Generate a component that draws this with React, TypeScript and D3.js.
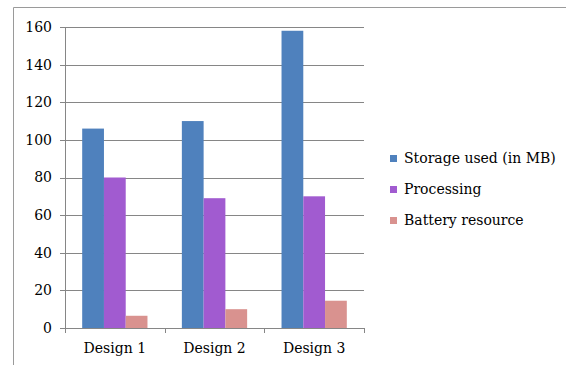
import React from "react";
import * as d3 from "d3";

const categories = ["Design 1", "Design 2", "Design 3"];
const seriesNames = ["Storage used (in MB)", "Processing", "Battery resource"];
const storage = [106, 110, 158];
const processing = [80, 69, 70];
const battery = [6.5, 10, 14.5];
const yTicks = [0, 20, 40, 60, 80, 100, 120, 140, 160];
const colors = ["#4F81BD", "#A15BD0", "#D9928F"];

export default function App() {
  const W = 566, H = 365;
  const left = 65, right = 364, top = 27, bottom = 328;
  const series = [storage, processing, battery];
  const x = d3.scaleBand<string>().domain(categories).range([left, right]).paddingInner(0).paddingOuter(0);
  const y = d3.scaleLinear().domain([0, 160]).range([bottom, top]);
  const bw = x.bandwidth();
  const groupW = bw * 0.655;
  const inner = d3.scaleBand<number>().domain([0, 1, 2]).range([0, groupW]);
  const ts: React.CSSProperties = { fontFamily: "'DejaVu Serif', serif", fontSize: 14 };
  const grid = "#868686";
  return (
    <svg width={W} height={H} style={{ position: "absolute", left: 0, top: 0 }}>
      <rect x={0} y={0} width={W} height={H} fill="#fff" />
      <line x1={13.5} y1={7.5} x2={W} y2={7.5} stroke="#9a9a9a" />
      <line x1={13.5} y1={7.5} x2={13.5} y2={H} stroke="#9a9a9a" />
      {yTicks.map((t) => (
        <g key={t}>
          {t > 0 && <line x1={left} x2={right} y1={Math.round(y(t)) + 0.5} y2={Math.round(y(t)) + 0.5} stroke={grid} />}
          <line x1={left - 5} x2={left} y1={Math.round(y(t)) + 0.5} y2={Math.round(y(t)) + 0.5} stroke={grid} />
          <text x={52} y={y(t)} dy="0.35em" textAnchor="end" style={ts} fill="#000">{t}</text>
        </g>
      ))}
      {categories.map((c, ci) =>
        series.map((s, si) => (
          <rect key={c + si} x={(x(c) as number) + (bw - groupW) / 2 + (inner(si) as number)} y={y(s[ci])}
            width={inner.bandwidth()} height={bottom - y(s[ci])} fill={colors[si]} />
        ))
      )}
      <line x1={left + 0.5} x2={left + 0.5} y1={top} y2={bottom} stroke={grid} />
      <line x1={left} x2={right} y1={bottom + 0.5} y2={bottom + 0.5} stroke={grid} />
      {[...categories.map((c) => x(c) as number), right].map((v, i) => (
        <line key={i} x1={Math.round(v) + 0.5} x2={Math.round(v) + 0.5} y1={bottom} y2={bottom + 5} stroke={grid} />
      ))}
      {categories.map((c) => (
        <text key={c} x={(x(c) as number) + bw / 2} y={353} textAnchor="middle" style={ts} fill="#000">{c}</text>
      ))}
      {seriesNames.map((n, i) => (
        <g key={n}>
          <rect x={390} y={155 + i * 31} width={7} height={7} fill={colors[i]} />
          <text x={404} y={158.5 + i * 31} dy="0.35em" style={ts} fill="#000">{n}</text>
        </g>
      ))}
    </svg>
  );
}
